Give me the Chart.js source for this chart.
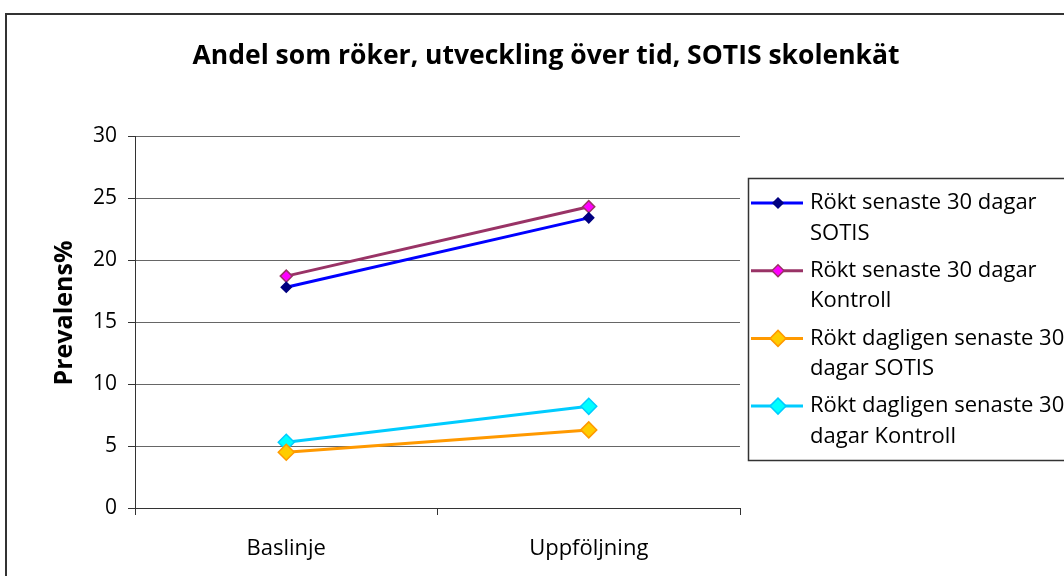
<!DOCTYPE html>
<html><head><meta charset="utf-8">
<script src="https://cdn.jsdelivr.net/npm/chart.js@4"></script>
<style>html,body{margin:0;padding:0;background:#fff;overflow:hidden}#wrap{width:1064px;height:576px;position:relative}</style>
</head><body><div id="wrap"><canvas id="c" width="1064" height="576"></canvas></div>
<script>
const categories = ['Baslinje', 'Uppföljning'];
const seriesNames = ['Rökt senaste 30 dagar SOTIS', 'Rökt senaste 30 dagar Kontroll', 'Rökt dagligen senaste 30 dagar SOTIS', 'Rökt dagligen senaste 30 dagar Kontroll'];
const smoked30Sotis = [17.8, 23.4];
const smoked30Kontroll = [18.7, 24.3];
const dailySotis = [4.5, 6.3];
const dailyKontroll = [5.3, 8.2];
const yTicks = [0, 5, 10, 15, 20, 25, 30];
const chartTitle = 'Andel som röker, utveckling över tid, SOTIS skolenkät';
const yTitle = 'Prevalens%';

const FONT = "'Open Sans', 'Noto Sans', sans-serif";

function ds(label, data, line, fill, border, r) {
  return { label, data, borderColor: line, backgroundColor: fill, pointBackgroundColor: fill,
    pointBorderColor: border, pointBorderWidth: 1.5, pointStyle: 'rectRot', pointRadius: r,
    pointHoverRadius: r, borderWidth: 3, tension: 0 };
}

const framePlugin = {
  id: 'frame',
  beforeDraw(chart) {
    const ctx = chart.ctx;
    ctx.save();
    ctx.fillStyle = '#fff';
    ctx.fillRect(0, 0, chart.width, chart.height);
    ctx.strokeStyle = '#333';
    ctx.lineWidth = 2;
    ctx.strokeRect(6, 14, 1200, 800);
    ctx.restore();
  },
  afterDraw(chart) {
    const ctx = chart.ctx;
    ctx.save();
    // title
    ctx.font = "bold 26.5px " + FONT;
    ctx.fillStyle = '#000';
    ctx.textAlign = 'center';
    ctx.textBaseline = 'middle';
    ctx.fillText(chartTitle, 546, 56);
    // y axis title
    ctx.save();
    ctx.translate(65, 313);
    ctx.rotate(-Math.PI / 2);
    ctx.font = "bold 25px " + FONT;
    ctx.fillText(yTitle, 0, 0);
    ctx.restore();
    // legend
    ctx.strokeStyle = '#333';
    ctx.lineWidth = 1.5;
    ctx.strokeRect(748.5, 178.5, 400, 282);
    ctx.font = "22px " + FONT;
    ctx.textAlign = 'left';
    const wrapW = 275;
    let y = 203;
    chart.data.datasets.forEach((d, i) => {
      const words = d.label.split(' ');
      const lines = [];
      let cur = '';
      words.forEach(w => {
        const t = cur ? cur + ' ' + w : w;
        if (ctx.measureText(t).width > wrapW && cur) { lines.push(cur); cur = w; } else cur = t;
      });
      lines.push(cur);
      ctx.strokeStyle = d.borderColor;
      ctx.lineWidth = 3;
      ctx.beginPath(); ctx.moveTo(751, y); ctx.lineTo(803, y); ctx.stroke();
      ctx.fillStyle = d.pointBackgroundColor;
      ctx.strokeStyle = d.pointBorderColor;
      ctx.lineWidth = 1.5;
      ctx.beginPath();
      ctx.moveTo(778, y - d.pointRadius); ctx.lineTo(778 + d.pointRadius, y);
      ctx.lineTo(778, y + d.pointRadius); ctx.lineTo(778 - d.pointRadius, y); ctx.closePath();
      ctx.fill(); ctx.stroke();
      ctx.fillStyle = '#000';
      lines.forEach((l, k) => ctx.fillText(l, 810, y + k * 30.5));
      y += 67.7;
    });
    ctx.restore();
  }
};

new Chart(document.getElementById('c'), {
  type: 'line',
  data: {
    labels: categories,
    datasets: [
      ds(seriesNames[0], smoked30Sotis, '#0000FF', '#000080', '#000080', 5),
      ds(seriesNames[1], smoked30Kontroll, '#993366', '#FF00FF', '#993366', 6),
      ds(seriesNames[2], dailySotis, '#FF9900', '#FFCC00', '#FF9900', 8),
      ds(seriesNames[3], dailyKontroll, '#00CCFF', '#00FFFF', '#00CCFF', 8)
    ]
  },
  options: {
    responsive: false,
    animation: false,
    events: [],
    layout: { padding: { left: 0, top: 136, right: 324, bottom: 0 } },
    plugins: { legend: { display: false }, title: { display: false }, tooltip: { enabled: false } },
    scales: {
      x: {
        offset: true,
        grid: { offset: true, drawOnChartArea: false, color: '#333', tickLength: 7 },
        border: { color: '#333', width: 1 },
        ticks: { color: '#000', font: { family: FONT, size: 22 }, padding: 21 },
        afterFit(s) { s.height = 68; }
      },
      y: {
        min: 0, max: 30,
        afterBuildTicks(s) { s.ticks = yTicks.map(v => ({ value: v })); },
        grid: { color: '#666', tickLength: 7, tickColor: '#333' },
        border: { color: '#333', width: 1 },
        ticks: { color: '#000', font: { family: FONT, size: 21 }, padding: 11 },
        title: { display: false },
        afterFit(s) { s.width = 135; }
      }
    }
  },
  plugins: [framePlugin]
});
</script></body></html>
